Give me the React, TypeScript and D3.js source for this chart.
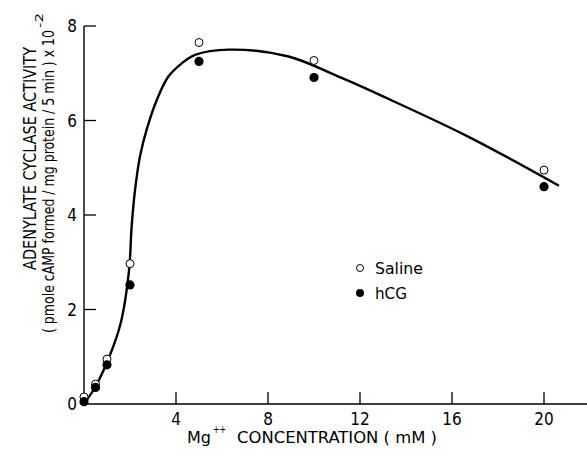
import React from "react";
import * as d3 from "d3";

const concentrations = [0, 0.5, 1, 2, 5, 10, 20];
const salineValues = [0.15, 0.42, 0.95, 2.97, 7.65, 7.27, 4.95];
const hcgValues = [0.05, 0.35, 0.83, 2.52, 7.25, 6.91, 4.6];

const curveX = [0, 0.5, 1.1, 1.6, 1.96, 2.07, 2.22, 2.43, 2.72, 3.16, 3.67, 4.25, 4.83, 6.3, 8.85, 11.2, 13, 16.7, 20.65];
const curveY = [0, 0.37, 1.0, 1.72, 2.84, 3.75, 4.53, 5.23, 5.8, 6.43, 6.93, 7.21, 7.39, 7.5, 7.36, 6.9, 6.51, 5.66, 4.62];

const xTicks = [4, 8, 12, 16, 20];
const yTicks = [0, 2, 4, 6, 8];

const FONT = "'Liberation Sans Narrow', 'DejaVu Sans Condensed', 'Liberation Sans', sans-serif";

export default function App() {
  const W = 587, H = 455;
  const x = d3.scaleLinear().domain([0, 20]).range([84, 544]);
  const y = d3.scaleLinear().domain([0, 8]).range([404, 26]);
  const pts: [number, number][] = curveX.map((v, i) => [v, curveY[i]]);
  const line = d3
    .line<[number, number]>()
    .x((d) => x(d[0]))
    .y((d) => y(d[1]))
    .curve(d3.curveCatmullRom.alpha(0.5));

  return (
    <svg
      width={W}
      height={H}
      style={{ position: "absolute", left: 0, top: 0, background: "#fff" }}
      fontFamily={FONT}
    >
      {/* axes */}
      <line x1={x(0)} x2={587} y1={y(0)} y2={y(0)} stroke="#000" strokeWidth={1.4} />
      <line x1={x(0)} x2={x(0)} y1={y(0)} y2={y(8)} stroke="#000" strokeWidth={1.4} />
      {xTicks.map((t) => (
        <g key={"xt" + t}>
          <line x1={x(t)} x2={x(t)} y1={y(0)} y2={y(0) - 12} stroke="#000" strokeWidth={1.3} />
          <text x={x(t)} y={425} textAnchor="middle" fontSize={17}>
            {t}
          </text>
        </g>
      ))}
      {yTicks.map((t) => (
        <g key={"yt" + t}>
          {t > 0 && (
            <line x1={x(0)} x2={x(0) + 12} y1={y(t)} y2={y(t)} stroke="#000" strokeWidth={1.3} />
          )}
          <text x={77} y={y(t) + 6} textAnchor="end" fontSize={17}>
            {t}
          </text>
        </g>
      ))}

      {/* x title */}
      <text x={187} y={443} fontSize={16} textLength={24} lengthAdjust="spacingAndGlyphs">Mg</text>
      <text x={213} y={433} fontSize={11} textLength={13} lengthAdjust="spacingAndGlyphs">++</text>
      <text x={237} y={443} fontSize={16} textLength={200} lengthAdjust="spacingAndGlyphs">
        CONCENTRATION ( mM )
      </text>

      {/* y title */}
      <text transform="translate(36,270) rotate(-90)" fontSize={17} textLength={223} lengthAdjust="spacingAndGlyphs">
        ADENYLATE CYCLASE ACTIVITY
      </text>
      <text transform="translate(54,333) rotate(-90)" fontSize={16.5} textLength={303} lengthAdjust="spacingAndGlyphs">
        ( pmole cAMP formed / mg protein / 5 min ) x 10
      </text>
      <text transform="translate(43,28) rotate(-90)" fontSize={11} textLength={15} lengthAdjust="spacingAndGlyphs">
        -2
      </text>

      {/* curve */}
      <path d={line(pts) || ""} fill="none" stroke="#000" strokeWidth={2.4} />

      {/* data */}
      {concentrations.map((c, i) => (
        <circle key={"s" + i} cx={x(c)} cy={y(salineValues[i])} r={4} fill="#fff" stroke="#000" strokeWidth={1} />
      ))}
      {concentrations.map((c, i) => (
        <circle key={"h" + i} cx={x(c)} cy={y(hcgValues[i])} r={4.6} fill="#000" />
      ))}

      {/* legend */}
      <circle cx={360} cy={268} r={3.5} fill="#fff" stroke="#000" strokeWidth={1} />
      <text x={375} y={274} fontSize={16} textLength={48} lengthAdjust="spacingAndGlyphs">Saline</text>
      <circle cx={360} cy={293} r={4} fill="#000" />
      <text x={375} y={299} fontSize={16} textLength={32} lengthAdjust="spacingAndGlyphs">hCG</text>
    </svg>
  );
}
